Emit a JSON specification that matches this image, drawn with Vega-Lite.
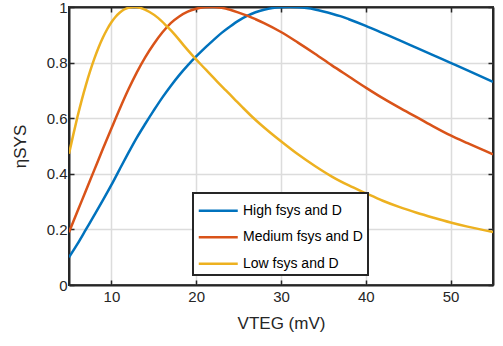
{
  "$schema": "https://vega.github.io/schema/vega-lite/v6.json",
  "autosize": "none",
  "padding": {"left": 69, "top": 7, "right": 10, "bottom": 61},
  "width": 424,
  "height": 278,
  "background": "white",
  "config": {
    "font": "Liberation Sans",
    "view": {"stroke": "#262626", "strokeWidth": 2},
    "axis": {
      "domainColor": "#262626",
      "domainWidth": 2,
      "tickColor": "#262626",
      "tickWidth": 1.5,
      "tickSize": -5,
      "labelFont": "Liberation Sans",
      "labelFontSize": 15,
      "labelColor": "#262626",
      "titleFont": "Liberation Sans",
      "titleFontSize": 17,
      "titleFontWeight": "normal",
      "titleColor": "#262626",
      "gridColor": "#dcdcdc",
      "gridWidth": 1.5
    },
    "legend": {"strokeWidth": 2}
  },
  "data": {
    "values": [
      {"s": "High fsys and D", "v": 5, "eta": 0.1},
      {"s": "High fsys and D", "v": 6, "eta": 0.148},
      {"s": "High fsys and D", "v": 7, "eta": 0.2},
      {"s": "High fsys and D", "v": 8, "eta": 0.252},
      {"s": "High fsys and D", "v": 9, "eta": 0.305},
      {"s": "High fsys and D", "v": 10, "eta": 0.36},
      {"s": "High fsys and D", "v": 11, "eta": 0.418},
      {"s": "High fsys and D", "v": 12, "eta": 0.475},
      {"s": "High fsys and D", "v": 13, "eta": 0.53},
      {"s": "High fsys and D", "v": 14, "eta": 0.58},
      {"s": "High fsys and D", "v": 15, "eta": 0.628},
      {"s": "High fsys and D", "v": 16, "eta": 0.674},
      {"s": "High fsys and D", "v": 17, "eta": 0.716},
      {"s": "High fsys and D", "v": 18, "eta": 0.755},
      {"s": "High fsys and D", "v": 19, "eta": 0.79},
      {"s": "High fsys and D", "v": 20, "eta": 0.822},
      {"s": "High fsys and D", "v": 21, "eta": 0.852},
      {"s": "High fsys and D", "v": 22, "eta": 0.88},
      {"s": "High fsys and D", "v": 23, "eta": 0.907},
      {"s": "High fsys and D", "v": 24, "eta": 0.93},
      {"s": "High fsys and D", "v": 25, "eta": 0.951},
      {"s": "High fsys and D", "v": 26, "eta": 0.968},
      {"s": "High fsys and D", "v": 27, "eta": 0.981},
      {"s": "High fsys and D", "v": 28, "eta": 0.99},
      {"s": "High fsys and D", "v": 29, "eta": 0.996},
      {"s": "High fsys and D", "v": 30, "eta": 0.999},
      {"s": "High fsys and D", "v": 31, "eta": 1.0},
      {"s": "High fsys and D", "v": 32, "eta": 0.999},
      {"s": "High fsys and D", "v": 33, "eta": 0.996},
      {"s": "High fsys and D", "v": 34, "eta": 0.991},
      {"s": "High fsys and D", "v": 35, "eta": 0.984},
      {"s": "High fsys and D", "v": 36, "eta": 0.976},
      {"s": "High fsys and D", "v": 37, "eta": 0.967},
      {"s": "High fsys and D", "v": 38, "eta": 0.956},
      {"s": "High fsys and D", "v": 40, "eta": 0.932},
      {"s": "High fsys and D", "v": 42, "eta": 0.906},
      {"s": "High fsys and D", "v": 44, "eta": 0.88},
      {"s": "High fsys and D", "v": 46, "eta": 0.853},
      {"s": "High fsys and D", "v": 48, "eta": 0.826},
      {"s": "High fsys and D", "v": 50, "eta": 0.799},
      {"s": "High fsys and D", "v": 52, "eta": 0.772},
      {"s": "High fsys and D", "v": 55, "eta": 0.731},

      {"s": "Medium fsys and D", "v": 5, "eta": 0.19},
      {"s": "Medium fsys and D", "v": 6, "eta": 0.265},
      {"s": "Medium fsys and D", "v": 7, "eta": 0.34},
      {"s": "Medium fsys and D", "v": 8, "eta": 0.415},
      {"s": "Medium fsys and D", "v": 9, "eta": 0.49},
      {"s": "Medium fsys and D", "v": 10, "eta": 0.563},
      {"s": "Medium fsys and D", "v": 11, "eta": 0.635},
      {"s": "Medium fsys and D", "v": 12, "eta": 0.703},
      {"s": "Medium fsys and D", "v": 13, "eta": 0.765},
      {"s": "Medium fsys and D", "v": 14, "eta": 0.82},
      {"s": "Medium fsys and D", "v": 15, "eta": 0.867},
      {"s": "Medium fsys and D", "v": 16, "eta": 0.908},
      {"s": "Medium fsys and D", "v": 17, "eta": 0.942},
      {"s": "Medium fsys and D", "v": 18, "eta": 0.966},
      {"s": "Medium fsys and D", "v": 19, "eta": 0.983},
      {"s": "Medium fsys and D", "v": 20, "eta": 0.994},
      {"s": "Medium fsys and D", "v": 21, "eta": 0.999},
      {"s": "Medium fsys and D", "v": 22, "eta": 1.0},
      {"s": "Medium fsys and D", "v": 23, "eta": 0.997},
      {"s": "Medium fsys and D", "v": 24, "eta": 0.99},
      {"s": "Medium fsys and D", "v": 25, "eta": 0.98},
      {"s": "Medium fsys and D", "v": 26, "eta": 0.969},
      {"s": "Medium fsys and D", "v": 27, "eta": 0.956},
      {"s": "Medium fsys and D", "v": 28, "eta": 0.942},
      {"s": "Medium fsys and D", "v": 30, "eta": 0.91},
      {"s": "Medium fsys and D", "v": 32, "eta": 0.872},
      {"s": "Medium fsys and D", "v": 34, "eta": 0.832},
      {"s": "Medium fsys and D", "v": 36, "eta": 0.79},
      {"s": "Medium fsys and D", "v": 38, "eta": 0.75},
      {"s": "Medium fsys and D", "v": 40, "eta": 0.71},
      {"s": "Medium fsys and D", "v": 42, "eta": 0.672},
      {"s": "Medium fsys and D", "v": 44, "eta": 0.637},
      {"s": "Medium fsys and D", "v": 46, "eta": 0.604},
      {"s": "Medium fsys and D", "v": 48, "eta": 0.57},
      {"s": "Medium fsys and D", "v": 50, "eta": 0.538},
      {"s": "Medium fsys and D", "v": 52, "eta": 0.51},
      {"s": "Medium fsys and D", "v": 55, "eta": 0.47},

      {"s": "Low fsys and D", "v": 5, "eta": 0.472},
      {"s": "Low fsys and D", "v": 5.5, "eta": 0.54},
      {"s": "Low fsys and D", "v": 6, "eta": 0.605},
      {"s": "Low fsys and D", "v": 6.5, "eta": 0.665},
      {"s": "Low fsys and D", "v": 7, "eta": 0.72},
      {"s": "Low fsys and D", "v": 7.5, "eta": 0.77},
      {"s": "Low fsys and D", "v": 8, "eta": 0.815},
      {"s": "Low fsys and D", "v": 8.5, "eta": 0.855},
      {"s": "Low fsys and D", "v": 9, "eta": 0.89},
      {"s": "Low fsys and D", "v": 9.5, "eta": 0.92},
      {"s": "Low fsys and D", "v": 10, "eta": 0.945},
      {"s": "Low fsys and D", "v": 10.5, "eta": 0.965},
      {"s": "Low fsys and D", "v": 11, "eta": 0.98},
      {"s": "Low fsys and D", "v": 11.5, "eta": 0.991},
      {"s": "Low fsys and D", "v": 12, "eta": 0.997},
      {"s": "Low fsys and D", "v": 12.7, "eta": 1.0},
      {"s": "Low fsys and D", "v": 13.5, "eta": 0.996},
      {"s": "Low fsys and D", "v": 14.5, "eta": 0.982},
      {"s": "Low fsys and D", "v": 15.5, "eta": 0.961},
      {"s": "Low fsys and D", "v": 16.5, "eta": 0.932},
      {"s": "Low fsys and D", "v": 17.5, "eta": 0.9},
      {"s": "Low fsys and D", "v": 18.5, "eta": 0.863},
      {"s": "Low fsys and D", "v": 19.5, "eta": 0.828},
      {"s": "Low fsys and D", "v": 20.5, "eta": 0.795},
      {"s": "Low fsys and D", "v": 21.5, "eta": 0.763},
      {"s": "Low fsys and D", "v": 22.5, "eta": 0.731},
      {"s": "Low fsys and D", "v": 23.5, "eta": 0.7},
      {"s": "Low fsys and D", "v": 24.5, "eta": 0.669},
      {"s": "Low fsys and D", "v": 25.5, "eta": 0.638},
      {"s": "Low fsys and D", "v": 26.5, "eta": 0.608},
      {"s": "Low fsys and D", "v": 27.5, "eta": 0.58},
      {"s": "Low fsys and D", "v": 28.5, "eta": 0.554},
      {"s": "Low fsys and D", "v": 30, "eta": 0.517},
      {"s": "Low fsys and D", "v": 32, "eta": 0.47},
      {"s": "Low fsys and D", "v": 34, "eta": 0.428},
      {"s": "Low fsys and D", "v": 36, "eta": 0.39},
      {"s": "Low fsys and D", "v": 38, "eta": 0.358},
      {"s": "Low fsys and D", "v": 40, "eta": 0.33},
      {"s": "Low fsys and D", "v": 42, "eta": 0.303},
      {"s": "Low fsys and D", "v": 44, "eta": 0.28},
      {"s": "Low fsys and D", "v": 46, "eta": 0.26},
      {"s": "Low fsys and D", "v": 48, "eta": 0.242},
      {"s": "Low fsys and D", "v": 50, "eta": 0.225},
      {"s": "Low fsys and D", "v": 52, "eta": 0.21},
      {"s": "Low fsys and D", "v": 55, "eta": 0.191}
    ]
  },
  "layer": [
    {
      "mark": {"type": "line", "strokeWidth": 2.5, "interpolate": "monotone", "clip": true},
      "encoding": {
        "x": {
          "field": "v", "type": "quantitative",
          "scale": {"domain": [5, 55], "nice": false, "zero": false},
          "axis": {
            "orient": "bottom",
            "values": [10, 20, 30, 40, 50],
            "title": "VTEG (mV)",
            "labelPadding": 9,
            "titlePadding": 11
          }
        },
        "y": {
          "field": "eta", "type": "quantitative",
          "scale": {"domain": [0, 1], "nice": false},
          "axis": {
            "orient": "left",
            "values": [0, 0.2, 0.4, 0.6, 0.8, 1],
            "format": ".1~f",
            "title": "ηSYS",
            "labelPadding": 7,
            "titlePadding": 17
          }
        },
        "color": {
          "field": "s", "type": "nominal",
          "scale": {
            "domain": ["High fsys and D", "Medium fsys and D", "Low fsys and D"],
            "range": ["#0072BD", "#D95319", "#EDB120"]
          },
          "legend": {
            "title": null,
            "orient": "none",
            "legendX": 124,
            "legendY": 186,
            "padding": 4.25,
            "fillColor": "white",
            "strokeColor": "#262626",
            "symbolType": "M-1.625,0H1.625",
            "symbolSize": 576,
            "symbolStrokeWidth": 2.5,
            "symbolOffset": 7.5,
            "labelOffset": 11.25,
            "labelExpr": "datum.label + ' '",
            "rowPadding": 5.5,
            "labelFont": "Liberation Sans",
            "labelFontSize": 14,
            "labelColor": "#000000"
          }
        }
      }
    },
    {
      "mark": {"type": "line", "strokeOpacity": 0},
      "encoding": {
        "x": {
          "field": "v", "type": "quantitative",
          "axis": {"orient": "top", "values": [10, 20, 30, 40, 50], "labels": false, "grid": false, "title": null}
        },
        "y": {
          "field": "eta", "type": "quantitative",
          "axis": {"orient": "right", "values": [0, 0.2, 0.4, 0.6, 0.8, 1], "labels": false, "grid": false, "title": null}
        },
        "detail": {"field": "s", "type": "nominal"}
      }
    }
  ],
  "resolve": {"axis": {"x": "independent", "y": "independent"}}
}
